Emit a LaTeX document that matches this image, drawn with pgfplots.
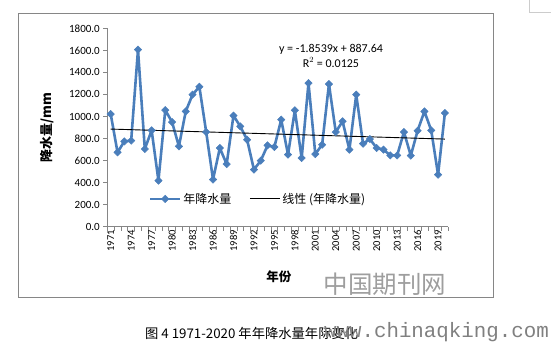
\documentclass[border=0pt]{standalone}
\usepackage{pgfplots}
\pgfplotsset{compat=1.18}
\usepackage{fontspec}
\setmainfont{Carlito}
\newfontfamily\cjk{Noto Sans CJK SC}
\newfontfamily\mono{Liberation Mono}
\definecolor{exblue}{RGB}{74,126,187}
\definecolor{frame}{RGB}{134,134,134}
\begin{document}
\begin{tikzpicture}
\path[use as bounding box] (0pt,0pt) rectangle (551pt,343pt);
% chart frame
\draw[frame, line width=0.8pt] (18pt,45.3pt) rectangle (493pt,329.7pt);
\draw[black!20, line width=0.8pt] (529pt,343pt) -- (529pt,331pt) -- (551pt,331pt);
\begin{axis}[
  at={(107.3pt,116.3pt)}, anchor=south west,
  scale only axis, width=341pt, height=198.4pt,
  xmin=1970.5, xmax=2020.5, ymin=0, ymax=1800,
  axis lines=left,
  axis line style={-, frame, line width=0.8pt},
  tick align=outside,
  major tick length=4pt,
  tick style={frame, line width=0.6pt},
  ytick={0,200,...,1800},
  yticklabel style={/pgf/number format/.cd, fixed, fixed zerofill, precision=1, 1000 sep={}},
  /pgf/number format/assume math mode=true,
  ticklabel style={font=\fontsize{11}{13}\selectfont, text=black},
  xtick={1970.5,1971.5,...,2020.5},
  xticklabels={},
  extra x ticks={1971,1974,...,2019},
  extra x tick style={major tick length=0pt, xticklabel style={rotate=90, anchor=east, /pgf/number format/1000 sep={}, font=\fontsize{10.5}{12}\selectfont}},
  extra x tick labels={1971,1974,1977,1980,1983,1986,1989,1992,1995,1998,2001,2004,2007,2010,2013,2016,2019},
  ylabel={\cjk\bfseries 降水量/mm},
  ylabel style={at={(axis description cs:-0.177,0.5)}, anchor=center, font=\fontsize{13}{15}\selectfont},
  xlabel={\cjk\bfseries 年份},
  xlabel style={at={(axis description cs:0.503,-0.254)}, anchor=center, font=\fontsize{12.5}{15}\selectfont},
  legend style={at={(axis description cs:0.442,0.14)}, anchor=center, draw=none, fill=none,
    legend columns=2, font=\cjk\fontsize{12}{14}\selectfont,
    /tikz/every even column/.append style={column sep=16pt}},
  legend image code/.code={\draw[mark repeat=2,mark phase=2,#1] plot coordinates {(0pt,0pt) (15pt,0pt) (30pt,0pt)};},
  clip=false,
]
\addplot[exblue, line width=2.6pt, line join=round, mark=square*, mark size=2.6pt, mark options={rotate=45, solid, fill=exblue, draw=exblue, line width=0.5pt, line join=miter}] coordinates {
(1971,1022) (1972,675) (1973,774) (1974,781) (1975,1606) (1976,705) (1977,874) (1978,418) (1979,1058) (1980,949)
(1981,729) (1982,1046) (1983,1198) (1984,1270) (1985,859) (1986,428) (1987,714) (1988,568) (1989,1008) (1990,910)
(1991,789) (1992,518) (1993,599) (1994,738) (1995,723) (1996,971) (1997,654) (1998,1056) (1999,623) (2000,1303)
(2001,659) (2002,744) (2003,1294) (2004,859) (2005,956) (2006,699) (2007,1198) (2008,753) (2009,795) (2010,714)
(2011,699) (2012,647) (2013,647) (2014,859) (2015,645) (2016,871) (2017,1046) (2018,874) (2019,472) (2020,1031)
};
\addlegendentry{年降水量}
\addplot[black, line width=0.9pt] coordinates {(1971,885.79) (2020,794.95)};
\addlegendentry{线性 (年降水量)}
\node[font=\fontsize{12}{14}\selectfont, align=center, anchor=center] at (axis description cs:0.656,0.863) {y = -1.8539x + 887.64\\[1pt]R$^2$ = 0.0125};
\end{axis}
% watermark
\node[text=black!38, font=\cjk\fontsize{24.5}{26}\selectfont, anchor=center] at (385pt,59pt) {中国期刊网};
% caption
\node[font=\cjk\fontsize{13.3}{15}\selectfont, anchor=west, inner sep=0pt] at (145pt,10pt) {图 4 1971-2020 年年降水量年际变化};
\node[text=black!50, font=\mono\fontsize{20.8}{24}\selectfont, anchor=east, inner sep=0pt] at (549pt,11pt) {www.chinaqking.com};
\end{tikzpicture}
\end{document}
